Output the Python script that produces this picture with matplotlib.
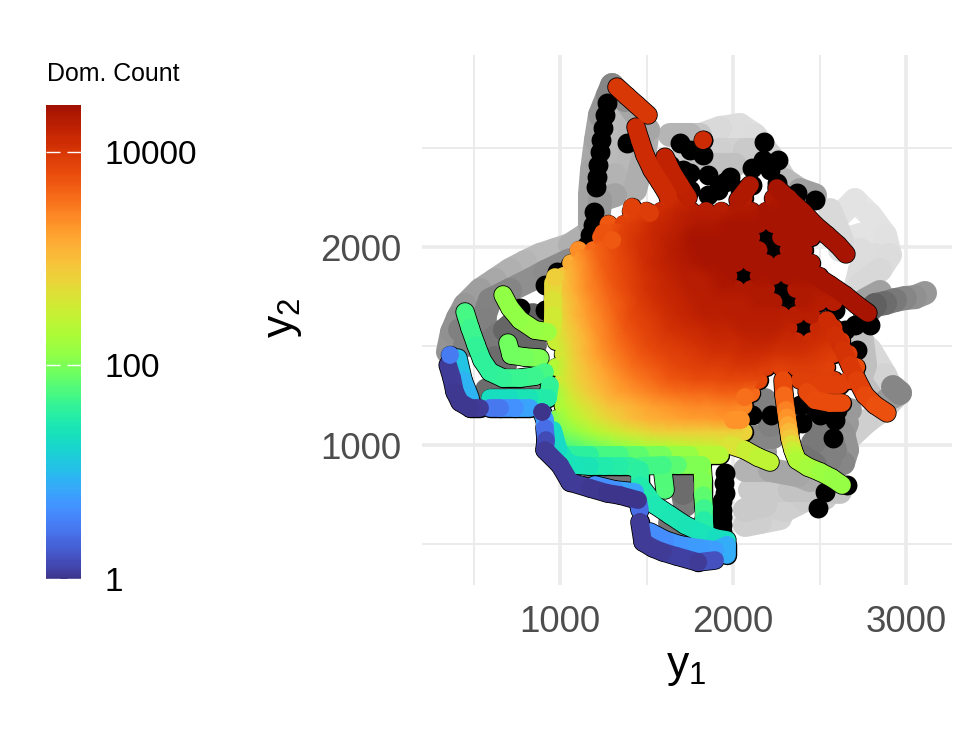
import numpy as np
import matplotlib
matplotlib.use('Agg')
import matplotlib.pyplot as plt
from matplotlib.cm import ScalarMappable
from matplotlib.collections import LineCollection
from matplotlib.colors import LinearSegmentedColormap, Normalize
from matplotlib.tri import Triangulation

plt.rcParams['font.family'] = ['Liberation Sans', 'DejaVu Sans']
plt.rcParams['mathtext.fontset'] = 'custom'
plt.rcParams['mathtext.rm'] = 'Liberation Sans'

n = np.nan

# grey bands of dominated points: x, y, grey level
gray_bands = [
    ([352, 376, 410, 451, 538, 624, 711, 798, 884, 971, 1058, 1145], [1470, 1571, 1641, 1707, 1783, 1833, 1884, 1924, 1960, 1985, 2010, 2060], [.6, .56, .58, .6, .64, .68, .7, .72, .74, .74, .72, .65]),
    ([555, 595, 711, 827, 913, 1058], [1631, 1732, 1783, 1833, 1874, 1934], [.52, .5, .54, .58, .55, .55]),
    ([451, 578, 682, 769, 844], [1505, 1515, 1581, 1646, 1656], [.5, .5, .45, .35, .4]),
    ([578, 624, 682], [1515, 1439, 1404], [.5, .45, .4]),
    ([769, 855], [1530, 1505], [.4, .4]),
    ([578, 682, 786, 855], [1278, 1288, 1278, 1288], [.45, .4, .45, .45]),
    ([422, 566], [1581, 1631], [.5, .5]),
    ([1301, 1277, 1231, 1208, 1185, 1173, 1173], [2818, 2767, 2667, 2540, 2389, 2262, 2111], [.5, .55, .62, .66, .66, .62, .66]),
    ([1301, 1376, 1509, 1491, 1434], [2818, 2742, 2591, 2490, 2288], [.5, .62, .68, .7, .66]),
    ([1301, 1318, 1347, 1318, 1318, 1231, 1220], [2667, 2591, 2490, 2363, 2262, 2237, 2111], [.72, .74, .74, .72, .68, .6, .6]),
    ([1405, 1405], [2616, 2389], [.72, .72]),
    ([1636, 1751, 1809, 1925, 2040, 2127, 2214, 2301, 2387, 2474], [2565, 2565, 2565, 2601, 2616, 2565, 2465, 2338, 2288, 2262], [.72, .7, .84, .86, .87, .88, .84, .8, .65, .6]),
    ([1694, 1925, 2069, 2156], [2439, 2490, 2490, 2490], [.78, .84, .8, .78]),
    ([2012, 1809], [2414, 2414], [.75, .75]),
    ([2618, 2705, 2792, 2879, 2907, 2850, 2734], [2162, 2237, 2162, 2060, 1960, 1884, 1808], [.88, .9, .9, .88, .88, .84, .85]),
    ([2630, 2734, 2821, 2734, 2705], [2035, 2060, 1960, 1884, 1783], [.88, .9, .88, .85, .87]),
    ([2618, 2734, 2821], [1985, 1985, 1900], [.88, .88, .85]),
    ([2561, 2630], [2187, 2035], [.85, .85]),
    ([3110, 3052, 2994, 2936, 2879, 2821, 2763], [1768, 1747, 1742, 1732, 1717, 1707, 1656], [.6, .58, .55, .5, .45, .4, .35]),
    ([2850, 2763], [1773, 1732], [.7, .55]),
    ([2705, 2792, 2879, 2936, 2879, 2769, 2676], [1556, 1480, 1354, 1242, 1187, 1116, 1040], [.85, .85, .85, .8, .82, .82, .8]),
    ([2746, 2763, 2734, 2792], [1530, 1404, 1328, 1252], [.75, .75, .75, .75]),
    ([2925, 2965, 2890], [1293, 1263, 1227], [.5, .55, .65]),
    ([2139, 2231], [1040, 1040], [.55, .5]),
    ([2110, 2185], [975, 965], [.6, .6]),
    ([2405, 2474, 2561, 2636, 2659, 2636, 2659], [939, 899, 924, 909, 975, 1061, 1111], [.4, .5, .5, .55, .6, .55, .65]),
    ([2462, 2543, 2590], [1010, 1091, 975], [.45, .5, .5]),
    ([2185, 2214], [1227, 1101], [.5, .5]),
    ([2474, 2676], [1101, 1177], [.55, .65]),
    ([2069, 2214, 2376, 2445], [874, 874, 848, 823], [.72, .68, .62, .72]),
    ([2098, 2214, 2329, 2445, 2618], [773, 773, 773, 773, 763], [.78, .8, .78, .75, .78]),
    ([2069, 2185, 2301, 2416, 2532], [672, 697, 672, 722, 732], [.78, .8, .82, .8, .8]),
    ([2069, 2156, 2272], [596, 611, 631], [.8, .82, .84]),
    ([1202, 1289, 1376, 1422], [833, 823, 808, 808], [.45, .45, .45, .45]),
    ([1694, 1734, 1711, 1723], [833, 808, 758, 697], [.45, .4, .45, .5]),
    ([1636, 1723], [606, 571], [.4, .5]),
]

# black points, the last ones show through gaps in the cloud
black_x = [1272, 1260, 1249, 1237, 1231, 1220, 1214, 1208, 1197, 1191, 1173, 1156, 1116, 1058, 983, 913, 1387,
           1711, 1751, 1855, 1855, 1954, 1983, 2110, 2173, 2179, 2260, 2254, 2474, 2370, 2040, 1694, 1751, 1827, 1827,
           2717, 2647, 2705, 2590, 2110, 2220, 2399, 2387, 2474, 2601, 2578,
           1954, 1954, 1936, 1936, 1942, 2491, 2659, 2532, 2329, 769, 913,
           1636, 1913, 1751, 1665, 2214, 2110, 2792, 2301, 2503, 2590, 1948, 1936, 1936, 1936,
           2191, 2058, 2278, 2405, 2318, 2231]
black_y = [2727, 2667, 2601, 2540, 2480, 2414, 2353, 2303, 2177, 2111, 2060, 2010, 1949, 1909, 1874, 1808, 2525,
           2389, 2374, 2364, 2262, 2328, 2353, 2399, 2439, 2530, 2439, 2323, 2237, 2273, 2288, 2525, 2490, 2540, 2465,
           1480, 1581, 1606, 1682, 1152, 1152, 1111, 1202, 1177, 1177, 1035,
           859, 758, 672, 596, 520, 682, 798, 763, 1076, 1692, 1682,
           2414, 2288, 2288, 2338, 2389, 2313, 1606, 1167, 1152, 1126, 808, 715, 634, 561,
           2050, 1853, 1788, 1591, 1722, 1985]

# main cloud, log10 of the dominance count, rows staggered
blob_x_even = [977, 1064, 1150, 1237, 1324, 1411, 1497, 1584, 1671, 1758, 1844, 1931, 2018, 2105, 2191, 2278, 2365, 2452, 2538, 2625, 2712]
blob_x_odd = [1020, 1107, 1193, 1280, 1367, 1454, 1540, 1627, 1714, 1801, 1887, 1974, 2061, 2148, 2234, 2321, 2408, 2495, 2581, 2668, 2755]
blob_y = [1000, 1066, 1131, 1197, 1263, 1328, 1394, 1460, 1525, 1591, 1657, 1722, 1788, 1854, 1919, 1985, 2050, 2116, 2182, 2247]
blob_log = [
    [1.7, 1.8, 1.9, 2.0, 2.1, 2.2, 2.3, 2.35, 2.4, 2.45, 2.5, 2.55, 2.6, n, n, n, n, n, n, n, n],
    [2.0, 2.15, 2.3, 2.45, 2.6, 2.7, 2.8, 2.85, 2.85, 2.85, 2.85, 2.85, 2.8, n, n, n, n, n, n, n, n],
    [2.05, 2.3, 2.5, 2.7, 2.85, 3.0, 3.1, 3.15, 3.2, 3.25, 3.25, 3.3, 3.3, n, n, n, n, n, n, n, n],
    [2.3, 2.55, 2.75, 2.95, 3.05, 3.15, 3.25, 3.3, 3.35, 3.4, 3.4, 3.45, 3.4, n, n, n, n, n, n, n, n],
    [2.2, 2.6, 2.85, 3.05, 3.2, 3.3, 3.4, 3.5, 3.55, 3.6, 3.6, 3.65, 3.65, 3.6, n, n, n, n, n, n, n],
    [2.55, 2.85, 3.05, 3.2, 3.35, 3.5, 3.6, 3.7, 3.75, 3.8, 3.8, 3.85, 3.85, 3.85, n, n, 3.95, 3.95, 3.95, 3.9, n],
    [2.35, 2.75, 3.0, 3.2, 3.4, 3.55, 3.65, 3.75, 3.85, 3.9, 3.95, 3.95, 4.0, 4.0, 3.95, 3.9, 3.95, 3.95, 3.9, n, 3.8],
    [2.6, 2.95, 3.2, 3.4, 3.55, 3.7, 3.8, 3.9, 3.95, 4.0, 4.05, 4.05, 4.1, 4.1, 4.05, 4.05, 4.05, 4.0, 3.95, 3.95, n],
    [2.5, 2.85, 3.1, 3.35, 3.55, 3.7, 3.85, 3.95, 4.0, 4.05, 4.1, 4.15, 4.15, 4.2, 4.2, 4.15, 4.15, 4.1, 4.05, 4.0, n],
    [2.75, 3.05, 3.3, 3.5, 3.7, 3.85, 3.95, 4.05, 4.1, 4.15, 4.2, 4.2, 4.25, 4.25, 4.25, 4.2, n, 4.15, 4.05, n, n],
    [2.65, 3.0, 3.25, 3.45, 3.65, 3.85, 3.95, 4.05, 4.15, 4.2, 4.25, 4.25, 4.3, 4.3, 4.3, 4.3, 4.25, 4.25, n, n, n],
    [2.85, 3.15, 3.4, 3.6, 3.75, 3.95, 4.05, 4.15, 4.2, 4.25, 4.3, 4.3, 4.3, 4.35, 4.35, n, 4.35, 4.3, 4.3, n, n],
    [2.85, 3.1, 3.35, 3.55, 3.75, 3.9, 4.05, 4.15, 4.2, 4.3, 4.3, 4.35, 4.35, 4.35, 4.35, n, 4.35, 4.35, 4.35, n, n],
    [2.95, 3.25, 3.5, 3.7, 3.85, 4.0, 4.1, 4.2, 4.3, 4.3, 4.35, 4.4, n, 4.4, 4.4, 4.4, 4.4, 4.4, n, n, n],
    [n, 3.15, 3.4, 3.65, 3.8, 3.95, 4.1, 4.2, 4.3, 4.35, 4.4, 4.4, 4.4, 4.4, 4.4, 4.4, 4.4, 4.4, n, n, n],
    [n, 3.35, 3.6, 3.75, 3.9, 4.05, 4.15, 4.25, 4.35, 4.4, 4.4, 4.4, 4.4, 4.4, n, 4.4, 4.4, n, n, n, n],
    [n, n, n, 3.7, 3.85, 4.0, 4.1, 4.2, 4.3, 4.4, 4.4, 4.4, 4.4, 4.4, n, 4.4, 4.4, 4.4, n, n, n],
    [n, n, n, 3.7, 3.9, 4.0, 4.15, 4.2, 4.3, 4.35, 4.35, 4.4, 4.4, 4.4, 4.4, 4.4, 4.4, n, n, n, n],
    [n, n, n, n, n, 3.85, 3.95, 4.1, 4.2, 4.25, 4.3, 4.3, 4.35, 4.35, 4.4, 4.4, 4.4, n, n, n, n],
    [n, n, n, n, n, n, n, 4.05, 4.15, n, n, n, 4.3, n, 4.35, 4.4, n, n, n, n, n],
]

# arms that stick out of the cloud: x, y, log10 count
arms = [
    ([1329, 1387, 1445, 1509], [2808, 2762, 2717, 2667], [4.0, 4.0, 4.0, 4.0]),
    ([1439, 1462, 1491, 1532, 1578, 1624], [2606, 2540, 2465, 2389, 2328, 2262], [4.1, 4.1, 4.1, 4.1, 4.1, 4.1]),
    ([1607, 1647, 1694, 1740], [2454, 2379, 2313, 2250], [4.2, 4.2, 4.2, 4.25]),
    ([2254, 2329, 2405, 2474, 2543, 2607, 2653], [2298, 2237, 2177, 2111, 2060, 2010, 1965], [4.4, 4.4, 4.4, 4.4, 4.4, 4.4, 4.4]),
    ([2098, 2029], [2313, 2237], [4.35, 4.35]),
    ([2387, 2474, 2561, 2647, 2717, 2780], [1924, 1858, 1808, 1757, 1707, 1667], [4.4, 4.4, 4.4, 4.4, 4.4, 4.4]),
    ([2543, 2590, 2636, 2676, 2717, 2763, 2821, 2890], [1631, 1556, 1480, 1404, 1328, 1252, 1202, 1162], [4.15, 4.1, 4.05, 4.0, 3.95, 3.85, 3.8, 3.75]),
    ([2387, 2503, 2618], [1328, 1303, 1303], [3.95, 3.9, 3.9]),
    ([2428, 2474, 2561, 2630], [1268, 1227, 1212, 1212], [3.85, 3.8, 3.8, 3.8]),
    ([2289, 2295, 2306, 2312, 2318, 2324, 2329, 2338, 2347, 2358, 2370, 2433, 2503, 2572, 2630],
     [1328, 1252, 1177, 1140, 1101, 1068, 1035, 1005, 975, 950, 924, 889, 864, 833, 798],
     [3.9, 3.7, 3.5, 3.4, 3.25, 3.1, 3.0, 2.8, 2.6, 2.45, 2.35, 2.25, 2.2, 2.15, 2.15]),
    ([1983, 2069, 2144, 2214], [1000, 975, 939, 914], [2.7, 2.55, 2.45, 2.4]),
    ([2000, 2046], [1126, 1126], [3.35, 3.3]),
    ([1821, 1827, 1827, 1832, 1832, 1838], [899, 823, 747, 682, 621, 556], [2.15, 2.05, 1.95, 1.75, 1.6, 1.45]),
    ([1462, 1462, 1549, 1636, 1723, 1809, 1896, 1965], [874, 798, 697, 646, 596, 561, 530, 520], [1.6, 1.5, 1.45, 1.45, 1.4, 1.4, 1.35, 1.3]),
    ([1595, 1607], [859, 773], [1.85, 1.75]),
    ([960, 990, 1040, 1087, 1173, 1260, 1347, 1405, 1462], [1076, 980, 915, 899, 894, 894, 894, 894, 874], [1.2, 1.4, 1.4, 1.35, 1.45, 1.5, 1.55, 1.6, 1.6]),
    ([1040, 1173, 1347, 1462, 1595, 1751, 1925], [950, 950, 950, 950, 950, 950, 950], [1.5, 1.65, 1.8, 1.9, 2.05, 2.25, 2.45]),
    ([1462, 1595, 1680, 1821], [894, 899, 899, 899], [1.65, 1.75, 1.9, 2.15]),
    ([896, 913, 913, 919, 913, 1000, 1058, 1173, 1272, 1347, 1451], [1167, 1126, 1086, 1025, 975, 899, 813, 783, 758, 747, 722], [.9, .95, .55, .25, .05, .05, .05, .05, 0, 0, 0]),
    ([1451, 1462], [722, 672], [.4, .4]),
    ([1462, 1480, 1538, 1595, 1676, 1798, 1896], [611, 510, 480, 460, 439, 409, 419], [.05, .05, .05, .05, .1, .05, .35]),
    ([1520, 1607, 1694, 1809, 1896, 1965, 1965], [561, 520, 495, 480, 470, 495, 444], [.55, .7, .75, .75, .8, 1.05, .75]),
    ([1202, 1318, 1434], [798, 773, 763], [.6, .7, .9]),
    ([353, 376, 393, 422, 480, 538], [1404, 1338, 1268, 1217, 1187, 1187], [.02, .05, .05, 0, .05, .05]),
    ([595, 653, 740, 827], [1187, 1187, 1187, 1187], [.35, .6, .75, .85]),
    ([410, 439, 480], [1439, 1328, 1237], [1.1, 1.0, .9]),
    ([595, 711, 827, 930, 942], [1237, 1237, 1237, 1237, 1303], [1.3, 1.35, 1.45, 1.55, 1.7]),
    ([451, 480, 515, 549, 595, 671, 769, 855, 913], [1672, 1591, 1505, 1429, 1369, 1338, 1338, 1348, 1369], [1.75, 1.7, 1.65, 1.6, 1.6, 1.65, 1.65, 1.7, 1.75]),
    ([671, 711, 769, 855, 930], [1758, 1692, 1631, 1581, 1571], [2.1, 2.1, 2.1, 2.15, 2.2]),
    ([699, 717, 798, 884], [1515, 1455, 1444, 1439], [1.95, 1.95, 2.0, 2.0]),
    ([960, 960, 960, 954], [1818, 1732, 1656, 1581], [2.8, 2.7, 2.6, 2.5]),
]

# single coloured points
dot_x = [1827, 1416, 1520, 1249, 1301, 2069, 896, 364, 971, 1058, 1462, 1798]
dot_y = [2540, 2202, 2172, 2071, 2035, 1242, 1167, 1455, 1848, 813, 611, 409]
dot_log = [4.1, 3.9, 3.95, 3.75, 3.7, 3.55, 0, .5, 2.85, .05, .05, .05]

legend_ticks = [0, 2, 4]
legend_labels = ['1', '100', '10000']
log_max = 4.44


def band_segments(bands):
    segs = []
    vals = []
    for xs, ys, cs in bands:
        for k in range(len(xs) - 1):
            segs.append([(xs[k], ys[k]), (xs[k + 1], ys[k + 1])])
            vals.append((cs[k] + cs[k + 1]) / 2)
    # the lower value goes on top
    idx = np.argsort(-np.array(vals), kind='stable')
    return [segs[i] for i in idx], np.array(vals)[idx]


blob_xx = []
blob_yy = []
blob_cc = []
for i in range(len(blob_y)):
    row_x = blob_x_even if i % 2 == 0 else blob_x_odd
    for j in range(len(row_x)):
        if not np.isnan(blob_log[i][j]):
            blob_xx.append(row_x[j])
            blob_yy.append(blob_y[i])
            blob_cc.append(blob_log[i][j])
blob_xx = np.array(blob_xx, dtype=float)
blob_yy = np.array(blob_yy, dtype=float)
blob_cc = np.array(blob_cc)

tri = Triangulation(blob_xx, blob_yy)
edge_a = np.hypot(blob_xx[tri.triangles] - blob_xx[np.roll(tri.triangles, 1, axis=1)],
                  blob_yy[tri.triangles] - blob_yy[np.roll(tri.triangles, 1, axis=1)])
tri.set_mask(edge_a.max(axis=1) > 100)

turbo = plt.get_cmap('turbo')
cmap = LinearSegmentedColormap.from_list('turbo_cut', turbo(np.linspace(0.05, 0.95, 256)))
norm = Normalize(0, log_max)

W, H = 975, 750
fig = plt.figure(figsize=(W / 100, H / 100), dpi=100)
ax = fig.add_axes([422 / W, (H - 585) / H, 530 / W, 530 / H])

gray_segs, gray_vals = band_segments(gray_bands)
ax.add_collection(LineCollection(gray_segs, linewidths=17.3, capstyle='round', cmap='gray',
                                 norm=Normalize(0, 1), array=gray_vals, zorder=2))
ax.scatter(black_x, black_y, s=205, c='black', linewidths=0, zorder=3)

arm_segs, arm_vals = band_segments(arms)
# thin black rim under the coloured marks
ax.add_collection(LineCollection(arm_segs, linewidths=14, capstyle='round', colors='black', zorder=4))
ax.scatter(blob_xx, blob_yy, s=196, c='black', linewidths=0, zorder=4)
ax.scatter(dot_x, dot_y, s=196, c='black', linewidths=0, zorder=4)

ax.scatter(blob_xx, blob_yy, s=165, c=blob_cc, cmap=cmap, norm=norm, linewidths=0, zorder=5)
ax.tripcolor(tri, blob_cc, shading='gouraud', cmap=cmap, norm=norm, zorder=6)
ax.add_collection(LineCollection(arm_segs, linewidths=12.8, capstyle='round', cmap=cmap, norm=norm,
                                 array=arm_vals, zorder=7))
ax.scatter(dot_x, dot_y, s=165, c=dot_log, cmap=cmap, norm=norm, linewidths=0, zorder=8)

# tripcolor switches the grid off, so set it up afterwards
ax.set_xlim(202, 3266)
ax.set_ylim(293, 2970)
ax.set_xticks([1000, 2000, 3000])
ax.set_yticks([1000, 2000])
ax.set_xticks([500, 1500, 2500], minor=True)
ax.set_yticks([500, 1500, 2500], minor=True)
ax.grid(True, which='major', color='#EBEBEB', linewidth=2.6)
ax.grid(True, which='minor', color='#EBEBEB', linewidth=1.4)
ax.set_axisbelow(True)
ax.tick_params(which='both', length=0)
ax.tick_params(axis='both', which='major', labelsize=26.5, labelcolor='#4D4D4D', pad=14.5)
for s in ax.spines.values():
    s.set_visible(False)

fig.text(686 / W, 1 - 667 / H, r'$\mathrm{y_1}$', fontsize=32, ha='center', va='center')
fig.text(283 / W, 1 - 318 / H, r'$\mathrm{y_2}$', fontsize=32, ha='center', va='center', rotation=90)

# legend
cax = fig.add_axes([46 / W, (H - 579) / H, 35 / W, 474 / H])
cb = fig.colorbar(ScalarMappable(norm=norm, cmap=cmap), cax=cax)
cb.set_ticks(legend_ticks)
cb.set_ticklabels(legend_labels)
cb.outline.set_visible(False)
cax.tick_params(length=0, labelsize=24, pad=17)
cax.hlines(legend_ticks, 0, 0.4, color='white', linewidth=1)
cax.hlines(legend_ticks, 0.6, 1, color='white', linewidth=1)
fig.text(47 / W, 1 - 74 / H, 'Dom. Count', fontsize=17.9, ha='left', va='center')

fig.savefig('out.png', dpi=100)
